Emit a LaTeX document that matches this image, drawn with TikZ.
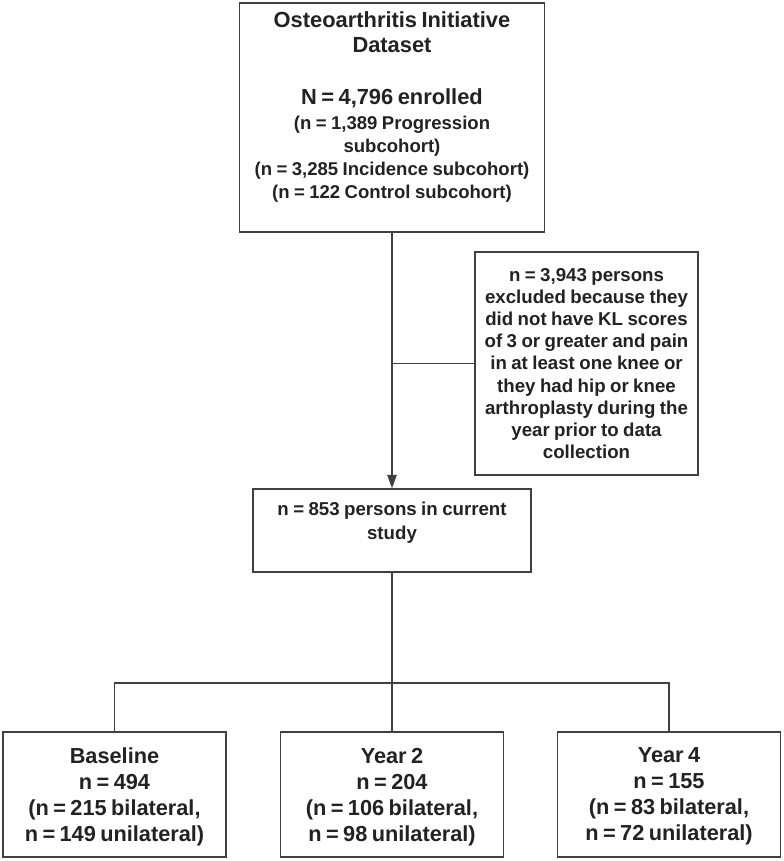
\documentclass[tikz,border=0pt]{standalone}
\usepackage{fontspec}
\setmainfont{Liberation Sans}
\usetikzlibrary{positioning,arrows.meta}
\tikzset{every picture/.style={line width=1.1pt}}
\definecolor{boxline}{RGB}{64,64,64}
\definecolor{boxtext}{RGB}{34,34,34}
\newcommand{\bigtxt}{\fontsize{16.4}{18.75}\selectfont\bfseries}
\newcommand{\smalltxt}{\fontsize{13.9}{17.25}\selectfont\bfseries}
\tikzset{
  flowbox/.style={draw=boxline, rectangle, inner sep=0pt},
  flowtxt/.style={text=boxtext, align=center, inner sep=0pt},
  flowline/.style={draw=boxline},
}

\begin{document}
\begin{tikzpicture}[x=0.75pt,y=-0.75pt]
\useasboundingbox (0,0) rectangle (784,861);

%Shape: Rectangle [dataset]
\node[flowbox, minimum width=228.75pt, minimum height=171.75pt] (oai) at (392,117.5) {};
%Shape: Rectangle [excluded]
\node[flowbox, minimum width=167.25pt, minimum height=167.25pt] (excl) at (586.5,363.5) {};
%Shape: Rectangle [current study]
\node[flowbox, minimum width=208.5pt, minimum height=62.25pt] (study) at (392,530.5) {};
%Shape: Rectangle [follow-up visits]
\node[flowbox, minimum width=167.25pt, minimum height=93.75pt] (base) at (114.5,794.5) {};
\node[flowbox, minimum width=167.25pt, minimum height=93.75pt] (yr2) at (392,794.5) {};
\node[flowbox, minimum width=167.25pt, minimum height=93.75pt] (yr4) at (669,794.5) {};

% Text Node
\node[flowtxt, text width=220pt, below=6.5pt of oai.north] (oai-txt) {%
  \bigtxt Osteoarthritis Initiative\\Dataset\par
  \vspace{20.25pt}
  \bigtxt N = 4,796 enrolled\par
  \vspace{1.5pt}
  \smalltxt (n = 1,389 Progression\\subcohort)\\(n = 3,285 Incidence subcohort)\\(n = 122 Control subcohort)\par};
% Text Node
\node[flowtxt, text width=160pt, below=12pt of excl.north] (excl-txt) {%
  \fontsize{14}{16.65}\selectfont\bfseries
  n = 3,943 persons\\excluded because they\\did not have KL scores\\of 3 or greater and pain\\in at least one knee or\\they had hip or knee\\arthroplasty during the\\year prior to data\\collection\par};
% Text Node
\node[flowtxt, text width=200pt, below=9.75pt of study.north] (study-txt) {%
  \fontsize{14}{18}\selectfont\bfseries
  n = 853 persons in current\\study\par};
% Text Node
\node[flowtxt, text width=160pt, below=12pt of base.north] (base-txt) {%
  \fontsize{16.3}{19.5}\selectfont\bfseries
  Baseline\\n = 494\\(n = 215 bilateral,\\n = 149 unilateral)\par};
% Text Node
\node[flowtxt, text width=160pt, below=12pt of yr2.north] (yr2-txt) {%
  \fontsize{16.3}{19.5}\selectfont\bfseries
  Year 2\\n = 204\\(n = 106 bilateral,\\n = 98 unilateral)\par};
% Text Node
\node[flowtxt, text width=160pt, below=12pt of yr4.north] (yr4-txt) {%
  \fontsize{16.3}{19.5}\selectfont\bfseries
  Year 4\\n = 155\\(n = 83 bilateral,\\n = 72 unilateral)\par};

% Connectors
\coordinate (join) at (oai.south |- excl.west);
\coordinate (split) at (392,683);
\draw[flowline, -{Triangle[width=7pt,length=10pt]}] (oai.south) -- (study.north);
\draw[flowline] (join) -- (excl.west);
\draw[flowline] (study.south) -- (split) -- (yr2.north);
\draw[flowline] (base.north) |- (split) -| (yr4.north);
\end{tikzpicture}
\end{document}
